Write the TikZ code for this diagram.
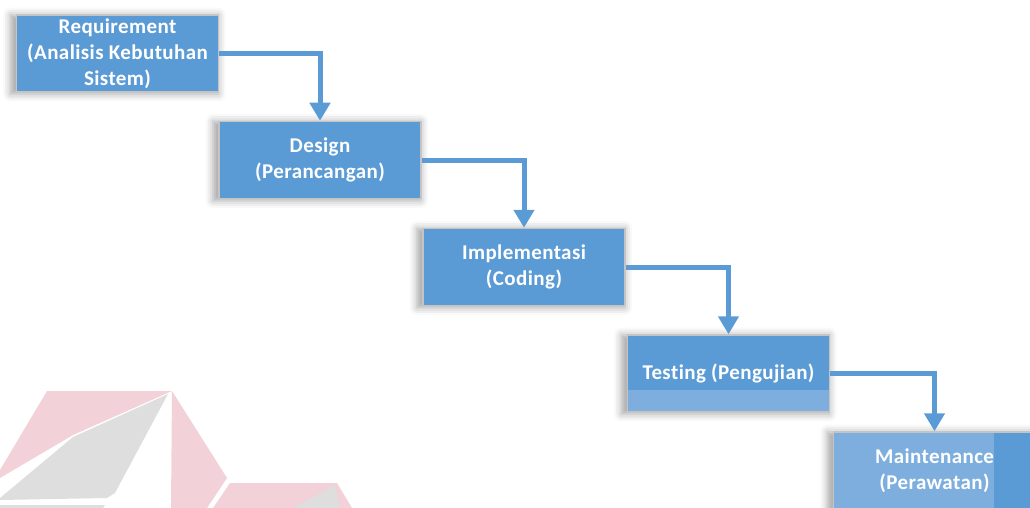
\documentclass[tikz,border=0pt]{standalone}
\usepackage{fontspec}
\setmainfont{Carlito}[Ligatures={NoCommon}, LetterSpace=2]
\usetikzlibrary{arrows.meta,shadows.blur}
\definecolor{stepblue}{HTML}{5B9BD5}
\definecolor{steplight}{HTML}{7DAEDE}
\definecolor{stepedge}{HTML}{C4C4C4}
\definecolor{logopink}{HTML}{F2D2D8}
\definecolor{logogrey}{HTML}{DEDEDE}
\tikzset{
  stepbox/.style={rectangle, draw=stepedge, line width=1.5pt, fill=stepblue,
    minimum width=202pt, minimum height=77pt, inner sep=0pt,
    text=white, font=\bfseries\fontsize{21}{26}\selectfont, align=center,
    blur shadow={shadow xshift=-3pt, shadow yshift=-1pt, shadow blur radius=7pt,
      shadow opacity=35, shadow scale=1.03}},
  conn/.style={draw=stepblue, line width=5pt,
    -{Triangle[width=20pt,length=18pt]}},
}
\begin{document}
\begin{tikzpicture}[x=1pt,y=-1pt]
\useasboundingbox (0,0) rectangle (1030,508);
\clip (0,0) rectangle (1030,508);

% faint logo in the background
\fill[logopink] (47,391) -- (172,391) -- (73,435) -- (0,478) -- (0,470) -- cycle;
\fill[logogrey] (168,394) -- (115,493) -- (107,498) -- (0,500) -- (0,498) -- (73,437) -- cycle;
\fill[logogrey] (0,505) -- (105,505) -- (103,508) -- (0,508) -- cycle;
\fill[logopink] (172,391) -- (227,478) -- (207,508) -- (171,508) -- cycle;
\fill[logopink] (230,483) -- (337,483) -- (352,508) -- (213,508) -- cycle;
\fill[logogrey] (335,485) -- (293,508) -- (340,508) -- cycle;

% waterfall stages
\node[stepbox] (req) at (117.5,53.5) {Requirement\\(Analisis Kebutuhan\\Sistem)};
\node[stepbox] (des) at (320,160) {Design\\(Perancangan)};
\node[stepbox] (imp) at (524,267) {Implementasi\\(Coding)};
\node[stepbox, path picture={\fill[steplight]
    ([yshift=22pt]path picture bounding box.south west) rectangle
    (path picture bounding box.south east);}] (tes) at (728.5,373.5) {Testing (Pengujian)};
\node[stepbox, fill=steplight, path picture={\fill[stepblue]
    ([xshift=-42pt]path picture bounding box.north east) rectangle
    (path picture bounding box.south east);}] (mai) at (934.5,470.5) {Maintenance\\(Perawatan)};

% flow between stages
\draw[conn] (req.east) -| (des.north);
\draw[conn] (des.east) -| (imp.north);
\draw[conn] (imp.east) -| (tes.north);
\draw[conn] (tes.east) -| (mai.north);
\end{tikzpicture}
\end{document}
